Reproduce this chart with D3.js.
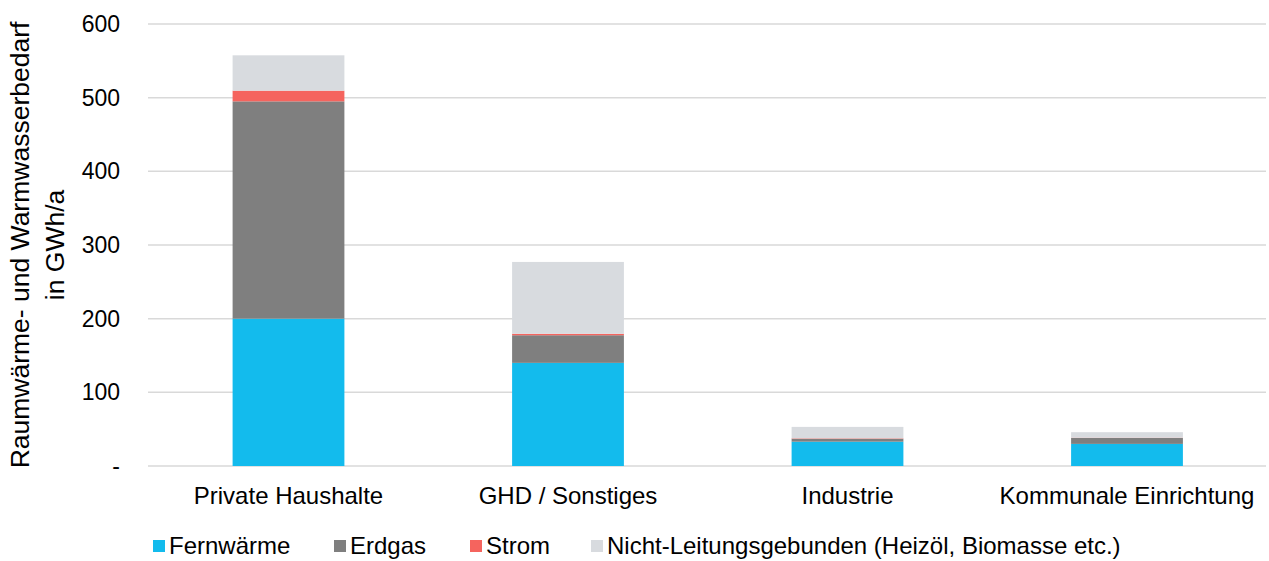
<!DOCTYPE html>
<html>
<head>
<meta charset="utf-8">
<script src="https://cdn.jsdelivr.net/npm/d3@7"></script>
<style>
  html, body { margin: 0; padding: 0; background: #fff; }
  svg { display: block; font-family: "Liberation Sans", Arial, sans-serif; }
</style>
</head>
<body>
<svg id="chart" width="1269" height="561"></svg>
<script>
const categories = ["Private Haushalte", "GHD / Sonstiges", "Industrie", "Kommunale Einrichtung"];
const seriesNames = ["Fernwärme", "Erdgas", "Strom", "Nicht-Leitungsgebunden (Heizöl, Biomasse etc.)"];
const fernwaerme = [200, 140, 33, 30];
const erdgas = [295, 37.5, 4, 8];
const strom = [14.5, 2, 0.6, 0.4];
const nichtLeitung = [48, 97.5, 15.5, 7.5];
const yTicks = [0, 100, 200, 300, 400, 500, 600];
const yTickLabels = ["-", "100", "200", "300", "400", "500", "600"];
const colors = ["#13BBED", "#7F7F7F", "#F5645E", "#D8DBDF"];

const svg = d3.select("#chart");
const fontSize = 23.5;

const x = d3.scaleBand().domain(categories).range([148.75, 1266.75]).padding(0);
const y = d3.scaleLinear().domain([0, 600]).range([466, 24]);
const barW = x.bandwidth() * 0.4;

// gridlines
svg.append("g").selectAll("line").data(yTicks).join("line")
  .attr("x1", 148).attr("x2", 1266)
  .attr("y1", d => y(d)).attr("y2", d => y(d))
  .attr("stroke", "#D9D9D9").attr("stroke-width", 1.5);

// y tick labels
svg.append("g").selectAll("text").data(yTicks).join("text")
  .attr("x", 120).attr("y", d => y(d))
  .attr("dy", "0.35em")
  .attr("text-anchor", "end")
  .attr("font-size", 23).attr("fill", "#000")
  .text((d, i) => yTickLabels[i]);

// stacked data
const rows = categories.map((c, i) => ({
  cat: c,
  "Fernwärme": fernwaerme[i],
  "Erdgas": erdgas[i],
  "Strom": strom[i],
  "Nicht-Leitungsgebunden (Heizöl, Biomasse etc.)": nichtLeitung[i]
}));
const stack = d3.stack().keys(seriesNames)(rows);

svg.append("g").selectAll("g").data(stack).join("g")
  .attr("fill", (d, i) => colors[i])
  .selectAll("rect").data(d => d).join("rect")
  .attr("x", d => x(d.data.cat) + (x.bandwidth() - barW) / 2)
  .attr("width", barW)
  .attr("y", d => y(d[1]))
  .attr("height", d => y(d[0]) - y(d[1]));

// x labels
svg.append("g").selectAll("text").data(categories).join("text")
  .attr("x", d => x(d) + x.bandwidth() / 2)
  .attr("y", 504)
  .attr("text-anchor", "middle")
  .attr("font-size", 24).attr("fill", "#000")
  .text(d => d);

// y title
const yt = svg.append("text")
  .attr("transform", "translate(0,245) rotate(-90)")
  .attr("text-anchor", "middle")
  .attr("font-size", 26.5).attr("fill", "#000");
yt.append("tspan").attr("x", 0).attr("y", 29).text("Raumwärme- und Warmwasserbedarf");
yt.append("tspan").attr("x", 0).attr("y", 64).text("in GWh/a");

// legend
const legendX = [153, 334, 470, 591];
const lg = svg.append("g").selectAll("g").data(seriesNames).join("g")
  .attr("transform", (d, i) => `translate(${legendX[i]},0)`);
lg.append("rect").attr("x", 0).attr("y", 540).attr("width", 12).attr("height", 12)
  .attr("fill", (d, i) => colors[i]);
lg.append("text").attr("x", 16).attr("y", 554)
  .attr("font-size", 24).attr("fill", "#000")
  .text(d => d);
</script>
</body>
</html>
